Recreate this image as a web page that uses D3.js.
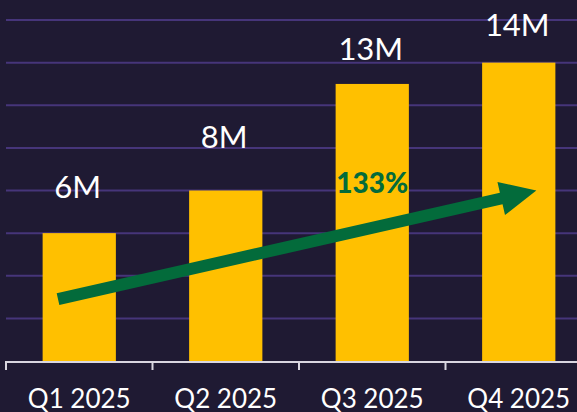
<!DOCTYPE html>
<html>
<head>
<meta charset="utf-8">
<script src="https://cdn.jsdelivr.net/npm/d3@7"></script>
<style>
	html, body { margin: 0; padding: 0; background: #1f1a33; }
	svg { display: block; }
</style>
</head>
<body>
<div id="chart"></div>
<script>
var width = 577,
	height = 412;

// data
var quarters = ["Q1 2025", "Q2 2025", "Q3 2025", "Q4 2025"];
var revenue = [6, 8, 13, 14];          // millions
var valueLabels = ["6M", "8M", "13M", "14M"];
var yTicks = [0, 2, 4, 6, 8, 10, 12, 14, 16];

// label lift above each bar (px), as placed in the original
var labelLift = [35, 43, 24, 27];

var left = 6,
	baseY = 361,
	topY = 20,
	step = 146.5;

var svg = d3.select("#chart")
	.append("svg")
		.attr("width", width)
		.attr("height", height)
		.style("background-color", "#1f1a33");

var x = d3.scaleBand()
	.domain(quarters)
	.range([left, left + step * quarters.length])
	.paddingInner(0.5)
	.paddingOuter(0.25);

var y = d3.scaleLinear()
	.domain([0, 16])
	.range([baseY, topY]);

// gridlines
svg.selectAll(".grid")
	.data(yTicks.slice(1))
	.enter()
	.append("line")
		.attr("x1", left)
		.attr("x2", width)
		.attr("y1", function(d){ return y(d); })
		.attr("y2", function(d){ return y(d); })
		.attr("stroke", "#46357a")
		.attr("stroke-width", 2);

// bars
svg.selectAll(".bar")
	.data(revenue)
	.enter()
	.append("rect")
		.attr("x", function(d, i){ return x(quarters[i]); })
		.attr("y", function(d){ return y(d); })
		.attr("width", x.bandwidth())
		.attr("height", function(d){ return baseY - y(d); })
		.attr("fill", "#ffc000");

// value labels
svg.selectAll(".val")
	.data(revenue)
	.enter()
	.append("text")
		.attr("x", function(d, i){ return x(quarters[i]) + x.bandwidth() / 2 - 1.5; })
		.attr("y", function(d, i){ return y(d) - labelLift[i]; })
		.attr("text-anchor", "middle")
		.style("font-family", "Lato, sans-serif")
		.style("font-size", "31px")
		.style("fill", "#ffffff")
		.text(function(d, i){ return valueLabels[i]; });

// x axis
svg.append("line")
	.attr("x1", left)
	.attr("x2", width)
	.attr("y1", baseY + 1)
	.attr("y2", baseY + 1)
	.attr("stroke", "#d9d6e0")
	.attr("stroke-width", 2);

svg.selectAll(".tick")
	.data(quarters)
	.enter()
	.append("line")
		.attr("x1", function(d){ return x(d) - x.step() * 0.25; })
		.attr("x2", function(d){ return x(d) - x.step() * 0.25; })
		.attr("y1", baseY)
		.attr("y2", baseY + 9)
		.attr("stroke", "#d9d6e0")
		.attr("stroke-width", 2);

svg.selectAll(".cat")
	.data(quarters)
	.enter()
	.append("text")
		.attr("x", function(d){ return x(d) + x.bandwidth() / 2; })
		.attr("y", 408)
		.attr("text-anchor", "middle")
		.style("font-family", "Lato, sans-serif")
		.style("font-size", "26px")
		.style("fill", "#ffffff")
		.text(function(d){ return d; });

// growth arrow
var x0 = x(quarters[0]) + x.bandwidth() * 0.21,
	y0 = y(2.9),
	x1 = x(quarters[3]) + x.bandwidth() * 0.74,
	y1 = y(8);

var ang = Math.atan2(y1 - y0, x1 - x0),
	len = Math.hypot(x1 - x0, y1 - y0),
	headLen = 36,
	headHalf = 17,
	shaftHalf = 6;

var arrowPts = [
	[0, -shaftHalf],
	[len - headLen, -shaftHalf],
	[len - headLen, -headHalf],
	[len, 0],
	[len - headLen, headHalf],
	[len - headLen, shaftHalf],
	[0, shaftHalf]
];

svg.append("path")
	.attr("d", d3.line()(arrowPts) + "Z")
	.attr("fill", "#036b3b")
	.attr("transform", "translate(" + x0 + "," + y0 + ") rotate(" + (ang * 180 / Math.PI) + ")");

var growth = Math.round((revenue[3] - revenue[0]) / revenue[0] * 100);

svg.append("text")
	.attr("x", x(quarters[2]) + x.bandwidth() / 2)
	.attr("y", 193)
	.attr("text-anchor", "middle")
	.style("font-family", "Lato, sans-serif")
	.style("font-weight", "900")
	.style("font-size", "28px")
	.style("fill", "#036b3b")
	.text(growth + "%");
</script>
</body>
</html>
